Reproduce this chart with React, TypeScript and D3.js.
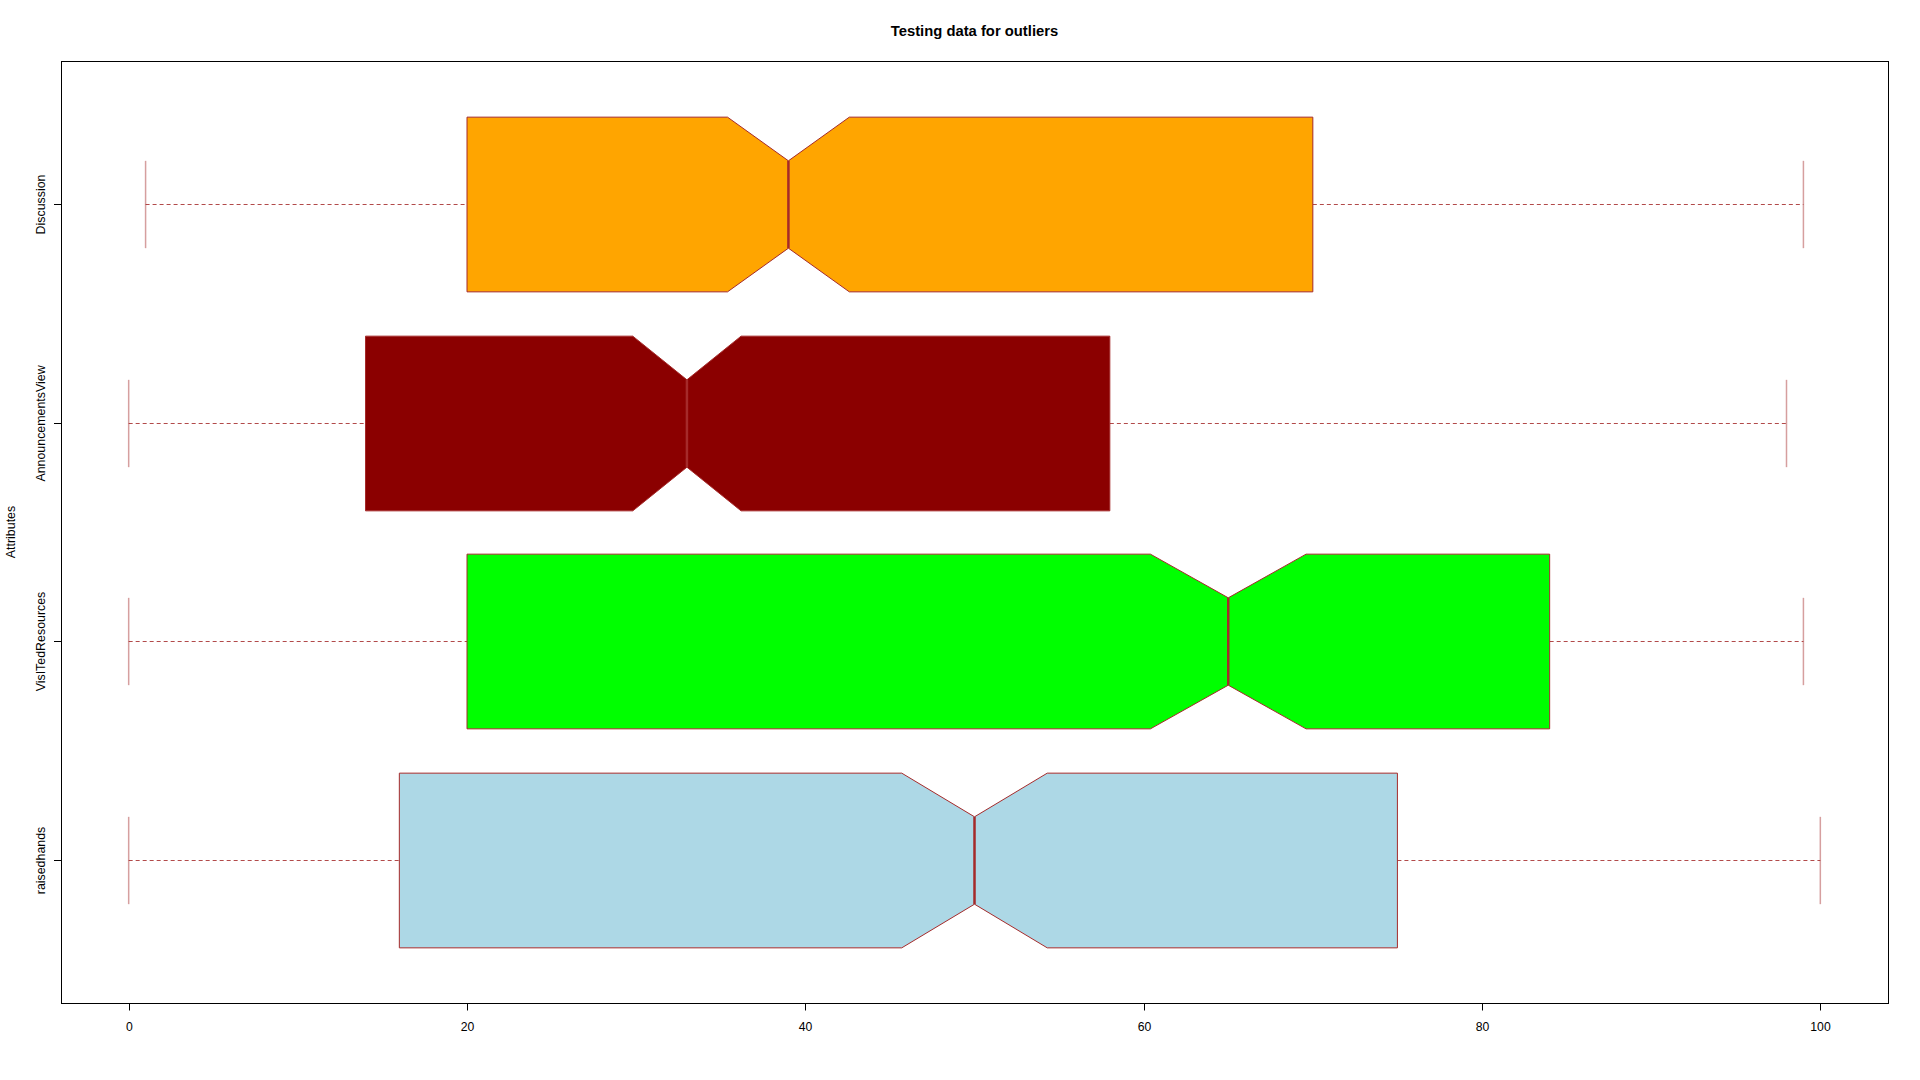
import React from "react";
import * as d3 from "d3";

// Categories listed bottom-to-top (R boxplot order: position 1 at bottom)
const categories = ["raisedhands", "VisITedResources", "AnnouncementsView", "Discussion"];
const whiskerMin = [0, 0, 0, 1];
const quartile1 = [16, 20, 14, 20];
const medians = [50, 65, 33, 39];
const quartile3 = [75, 84, 58, 70];
const whiskerMax = [100, 99, 98, 99];
const notchLow = [45.7, 60.4, 29.8, 35.4];
const notchHigh = [54.3, 69.6, 36.2, 42.6];
const fills = ["#ADD8E6", "#00FF00", "#8B0000", "#FFA500"];
const xTicks = [0, 20, 40, 60, 80, 100];

const W = 1920;
const H = 1080;
const plotLeft = 61;
const plotRight = 1888;
const plotTop = 61;
const plotBottom = 1003;
const border = "#A52A2A";
const font = "'Liberation Sans', Arial, Helvetica, sans-serif";

export default function App() {
  const x = d3.scaleLinear().domain([-4, 104]).range([plotLeft, plotRight]);
  const y = d3.scaleLinear().domain([0.343, 4.657]).range([plotBottom, plotTop]);
  const unit = Math.abs(y(1) - y(0));
  const halfBox = 0.4 * unit;
  const halfCap = 0.2 * unit;

  const line = d3.line<[number, number]>().x((d) => d[0]).y((d) => d[1]);

  return (
    <svg
      width={W}
      height={H}
      viewBox={`0 0 ${W} ${H}`}
      style={{ position: "absolute", left: 0, top: 0, background: "#fff" }}
    >
      <rect x={0} y={0} width={W} height={H} fill="#fff" />
      <text
        x={(plotLeft + plotRight) / 2}
        y={36}
        textAnchor="middle"
        fontFamily={font}
        fontWeight="bold"
        fontSize={14.8}
        fill="#000"
      >
        Testing data for outliers
      </text>

      {categories.map((cat, i) => {
        const cy = Math.round(y(i + 1)) + 0.5;
        const pts: [number, number][] = [
          [x(quartile1[i]), cy - halfBox],
          [x(notchLow[i]), cy - halfBox],
          [x(medians[i]), cy - halfBox / 2],
          [x(notchHigh[i]), cy - halfBox],
          [x(quartile3[i]), cy - halfBox],
          [x(quartile3[i]), cy + halfBox],
          [x(notchHigh[i]), cy + halfBox],
          [x(medians[i]), cy + halfBox / 2],
          [x(notchLow[i]), cy + halfBox],
          [x(quartile1[i]), cy + halfBox],
        ];
        return (
          <g key={cat}>
            <line
              x1={x(whiskerMin[i])}
              x2={x(quartile1[i])}
              y1={cy}
              y2={cy}
              stroke={border}
              strokeOpacity={0.85}
              strokeWidth={1}
              strokeDasharray="4,3"
            />
            <line
              x1={x(quartile3[i])}
              x2={x(whiskerMax[i])}
              y1={cy}
              y2={cy}
              stroke={border}
              strokeOpacity={0.85}
              strokeWidth={1}
              strokeDasharray="4,3"
            />
            <line
              x1={x(whiskerMin[i])}
              x2={x(whiskerMin[i])}
              y1={cy - halfCap}
              y2={cy + halfCap}
              stroke={border}
              strokeOpacity={0.45}
              strokeWidth={1.5}
            />
            <line
              x1={x(whiskerMax[i])}
              x2={x(whiskerMax[i])}
              y1={cy - halfCap}
              y2={cy + halfCap}
              stroke={border}
              strokeOpacity={0.45}
              strokeWidth={1.5}
            />
            <path d={line(pts) + "Z"} fill={fills[i]} stroke={border} strokeWidth={1} />
            <line
              x1={x(medians[i])}
              x2={x(medians[i])}
              y1={cy - halfBox / 2}
              y2={cy + halfBox / 2}
              stroke={border}
              strokeWidth={2.5}
            />
            <line
              x1={plotLeft}
              x2={plotLeft - 7}
              y1={cy}
              y2={cy}
              stroke="#000"
              strokeWidth={1}
            />
            <text
              transform={`translate(44.5, ${cy}) rotate(-90)`}
              textAnchor="middle"
              fontFamily={font}
              fontSize={12.4}
              fill="#000"
            >
              {cat}
            </text>
          </g>
        );
      })}

      <rect
        x={plotLeft + 0.5}
        y={plotTop + 0.5}
        width={plotRight - plotLeft}
        height={plotBottom - plotTop}
        fill="none"
        stroke="#000"
        strokeWidth={1}
      />

      <line
        x1={Math.round(x(xTicks[0])) + 0.5}
        x2={Math.round(x(xTicks[xTicks.length - 1])) + 0.5}
        y1={plotBottom + 0.5}
        y2={plotBottom + 0.5}
        stroke="#000"
        strokeWidth={1}
      />
      {xTicks.map((t) => {
        const tx = Math.round(x(t)) + 0.5;
        return (
          <g key={t}>
            <line x1={tx} x2={tx} y1={plotBottom} y2={plotBottom + 7.5} stroke="#000" strokeWidth={1} />
            <text x={tx} y={1031} textAnchor="middle" fontFamily={font} fontSize={12.2} fill="#000">
              {t}
            </text>
          </g>
        );
      })}

      <text
        transform={`translate(15, ${(plotTop + plotBottom) / 2}) rotate(-90)`}
        textAnchor="middle"
        fontFamily={font}
        fontSize={12.4}
        fill="#000"
      >
        Attributes
      </text>
    </svg>
  );
}
